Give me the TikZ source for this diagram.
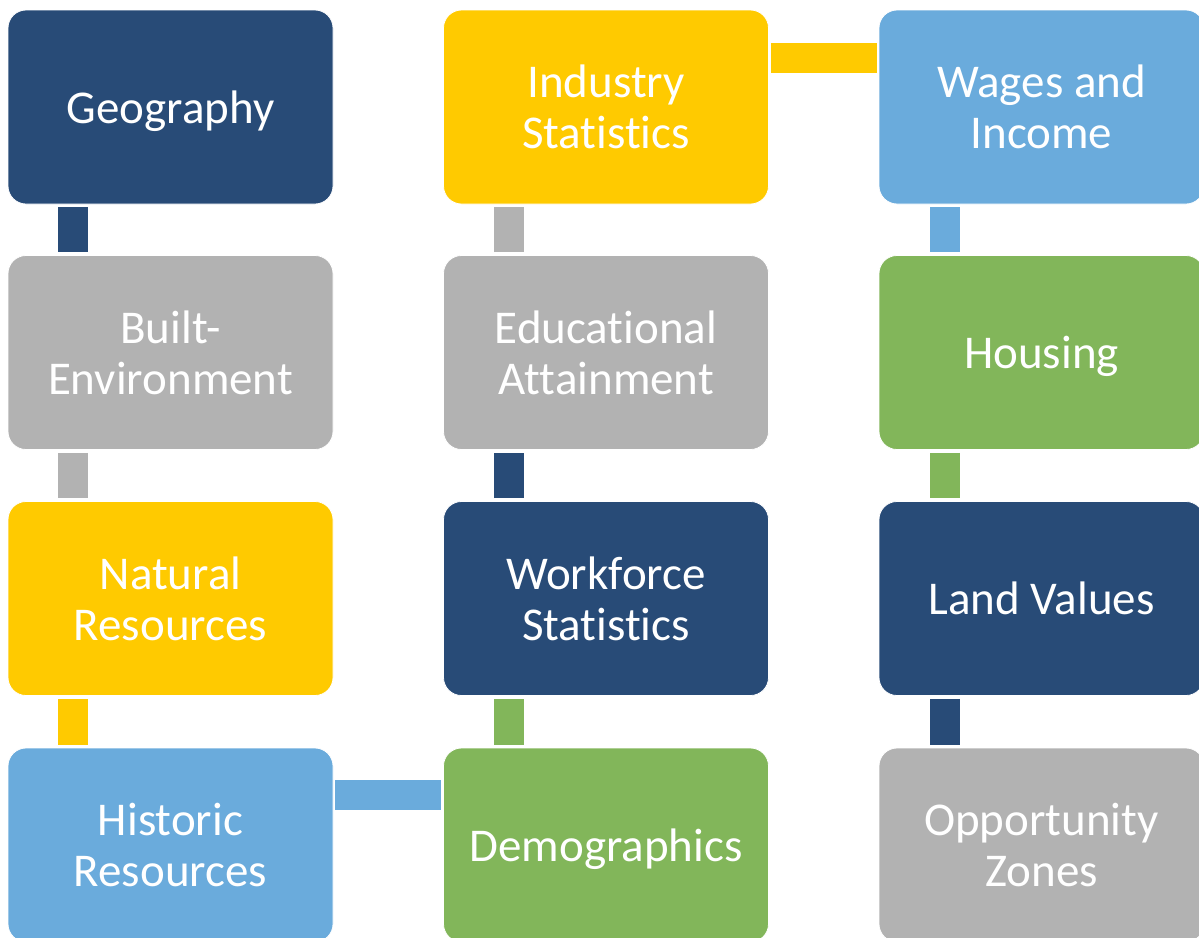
\documentclass[tikz,border=0pt]{standalone}
\usepackage{fontspec}
\setmainfont{Carlito}[Ligatures=NoCommon]
\definecolor{navy}{HTML}{284B77}
\definecolor{gold}{HTML}{FFCA00}
\definecolor{stone}{HTML}{B2B2B2}
\definecolor{sky}{HTML}{6AABDC}
\definecolor{leaf}{HTML}{82B65A}
% line strut: keeps the baselines of every label at the same offset from the box centre
\newcommand\ls{\rule[-9pt]{0pt}{50pt}}
% zero kern: keeps t+i and t+t as separate letters
\newcommand\nk{\kern0pt}
\tikzset{
  tile/.style={rectangle, rounded corners=18pt, minimum width=325pt, minimum height=194pt,
    inner sep=0pt, fill=#1, draw=white, line width=0.8pt, text=white, align=center,
    font={\fontsize{47}{51}\selectfont\lineskiplimit=-100pt}},
  vlink/.style={line width=30pt, draw=#1, shorten <=3pt, shorten >=3pt},
  hlink/.style={line width=30pt, draw=#1, shorten <=2pt, shorten >=2pt},
}
\begin{document}
\begin{tikzpicture}[x=1pt,y=-1pt]
\useasboundingbox (0,0) rectangle (1199,937);
\clip (0,0) rectangle (1199,937);
% column 1
\node[tile=navy]  (geo)  at (170.5,107)   {Geography\ls};
\node[tile=stone] (built) at (170.5,352.5) {Built-\ls\\Environment\ls};
\node[tile=gold]  (nat)  at (170.5,598.5) {Natural\ls\\Resources\ls};
\node[tile=sky]   (hist) at (170.5,845)   {Historic\ls\\Resources\ls};
% column 2
\node[tile=gold]  (ind)  at (606,107)     {Industry\ls\\Stat\nk ist\nk ics\ls};
\node[tile=stone] (edu)  at (606,352.5)   {Educat\nk ional\ls\\At\nk tainment\ls};
\node[tile=navy]  (work) at (606,598.5)   {Workforce\ls\\Stat\nk ist\nk ics\ls};
\node[tile=leaf]  (demo) at (606,845)     {Demographics\ls};
% column 3
\node[tile=sky]   (wage) at (1041.5,107)   {Wages and\ls\\Income\ls};
\node[tile=leaf]  (hous) at (1041.5,352.5) {Housing\ls};
\node[tile=navy]  (land) at (1041.5,598.5) {Land Values\ls};
\node[tile=stone] (opp)  at (1041.5,845)   {Opportunity\ls\\Zones\ls};
% links, coloured after the tile they leave
\draw[vlink=navy]  ([xshift=-97.5pt]geo.south)   -- ([xshift=-97.5pt]built.north);
\draw[vlink=stone] ([xshift=-97.5pt]built.south) -- ([xshift=-97.5pt]nat.north);
\draw[vlink=gold]  ([xshift=-97.5pt]nat.south)   -- ([xshift=-97.5pt]hist.north);
\draw[hlink=sky]   ([yshift=50pt]hist.east)      -- ([yshift=50pt]demo.west);
\draw[vlink=leaf]  ([xshift=-97pt]demo.north)    -- ([xshift=-97pt]work.south);
\draw[vlink=navy]  ([xshift=-97pt]work.north)    -- ([xshift=-97pt]edu.south);
\draw[vlink=stone] ([xshift=-97pt]edu.north)     -- ([xshift=-97pt]ind.south);
\draw[hlink=gold]  ([yshift=49pt]ind.east)       -- ([yshift=49pt]wage.west);
\draw[vlink=sky]   ([xshift=-96.5pt]wage.south)  -- ([xshift=-96.5pt]hous.north);
\draw[vlink=leaf]  ([xshift=-96.5pt]hous.south)  -- ([xshift=-96.5pt]land.north);
\draw[vlink=navy]  ([xshift=-96.5pt]land.south)  -- ([xshift=-96.5pt]opp.north);
\end{tikzpicture}
\end{document}
